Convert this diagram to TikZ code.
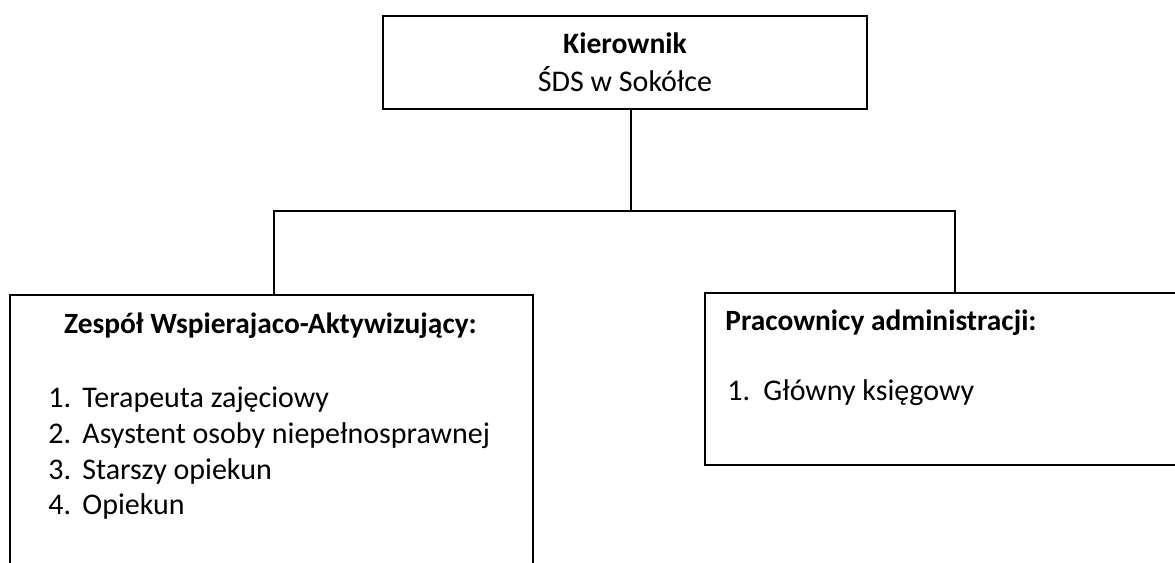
\documentclass[tikz,border=0pt]{standalone}
\usepackage{fontspec}
\setmainfont{Carlito}
\usetikzlibrary{positioning}
\tikzset{
	box/.style   = {shape=rectangle, draw, line width=1pt, inner sep=0pt},
	head/.style  = {inner sep=0pt, anchor=base, font=\fontsize{14.7}{18}\selectfont\bfseries},
	item/.style  = {inner sep=0pt, anchor=base west},
	link/.style  = {draw, line width=1pt},
}

\begin{document}
\fontsize{15}{18}\selectfont
\begin{tikzpicture}
	[
	x = 0.5pt,
	y = -0.5pt,
	]
	\clip (0,0) rectangle (1175,563);
	% boxes
	\node[box, minimum width=242pt, minimum height=46.5pt, align=center,
		font=\fontsize{15}{19}\selectfont] (kier) at (625,62.5){
		{\fontsize{14.8}{19}\selectfont\bfseries Kierownik}\\ŚDS w Sokółce
	};
	\node[box, minimum width=261.5pt, minimum height=172.5pt] (zesp) at (271.5,467.5){};
	\node[box, minimum width=262.5pt, minimum height=86pt] (admin) at (967.5,379){};
	
	% left box text
	\node[head] (zesphead) at (270.5,333){Zespół Wspierajaco-Aktywizujący:};
	\node[item] (znum1) at (48,407){1.};
	\node[item] (zitem1) at (82,407){Terapeuta zajęciowy};
	\node[item] (znum2) at (48,443){2.};
	\node[item] (zitem2) at (82,443){Asystent osoby niepełnosprawnej};
	\node[item] (znum3) at (48,479){3.};
	\node[item] (zitem3) at (82,479){Starszy opiekun};
	\node[item] (znum4) at (48,514){4.};
	\node[item] (zitem4) at (82,514){Opiekun};
	
	% right box text
	\node[head, anchor=base west] (adminhead) at (725,330){Pracownicy administracji:};
	\node[item] (anum1) at (727,400){1.};
	\node[item] (aitem1) at (763,400){Główny księgowy};
	
	% connectors
	\coordinate (forkl) at (274,211);
	\coordinate (forkr) at (955,211);
	\draw[link] ([xshift=3pt]kier.south) -- ([xshift=3pt]kier.south |- forkl);
	\draw[link] (zesp.north -| forkl) -- (forkl) -- (forkr) -- (forkr |- admin.north);
\end{tikzpicture}
\end{document}
